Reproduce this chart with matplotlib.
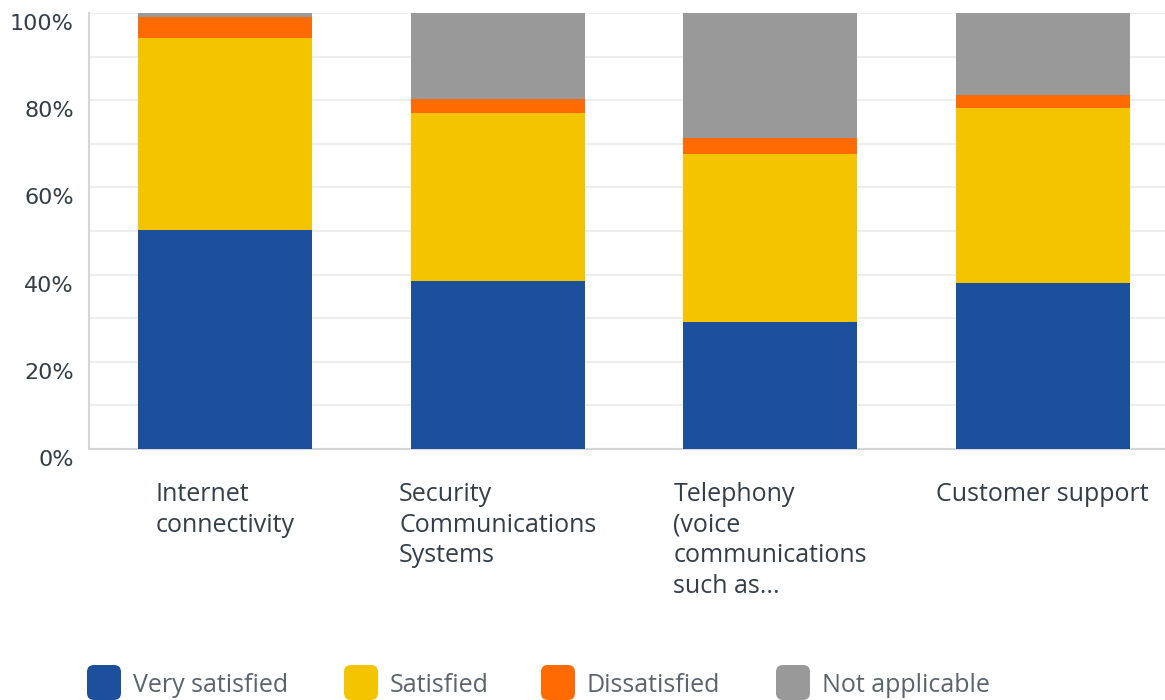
import matplotlib
matplotlib.use('Agg')
import matplotlib.pyplot as plt
import matplotlib.transforms as mtransforms
from matplotlib.patches import FancyBboxPatch

# 데이터
categories = ['Internet\nconnectivity',
              'Security\nCommunications\nSystems',
              'Telephony\n(voice\ncommunications\nsuch as...',
              'Customer support']
very_satisfied = [50.2, 38.5, 29.1, 38.1]
satisfied = [44.1, 38.6, 38.6, 40.2]
dissatisfied = [4.8, 3.1, 3.6, 2.9]
not_applicable = [0.9, 19.8, 28.7, 18.8]

series_names = ['Very satisfied', 'Satisfied', 'Dissatisfied', 'Not applicable']
colors = ['#1c4f9c', '#f5c400', '#ff6b00', '#999999']

plt.rcParams['font.family'] = ['Open Sans', 'DejaVu Sans']

fig = plt.figure(figsize=(11.65, 7), dpi=100)
ax = fig.add_axes([89 / 1165, 1 - 449 / 700, (1165 - 89) / 1165, 436 / 700])

x = range(len(categories))
bottom = [0] * len(categories)
for name, vals, col in zip(series_names, [very_satisfied, satisfied, dissatisfied, not_applicable], colors):
    ax.bar(x, vals, width=0.64, bottom=bottom, color=col, edgecolor='none', zorder=3, label=name)
    bottom = [b + v for b, v in zip(bottom, vals)]

ax.set_xlim(-0.5, (1165 - 89) / 272.5 - 0.5)
ax.set_ylim(0, 100)
ax.set_yticks(range(0, 101, 20))
ax.set_yticklabels([f'{v}%' for v in range(0, 101, 20)], fontsize=16, color='#333e48',
                   family='DejaVu Sans')
ax.set_yticks(range(10, 100, 20), minor=True)
ax.grid(axis='y', which='both', color='#eeeeee', linewidth=1.5, zorder=0)
ax.tick_params(axis='y', which='both', length=0, pad=11)

# y 라벨을 살짝 아래로
offset = mtransforms.ScaledTranslation(0, -9 / 100, fig.dpi_scale_trans)
for lbl in ax.get_yticklabels():
    lbl.set_transform(lbl.get_transform() + offset)

ax.set_xticks(list(x))
ax.set_xticklabels(categories, fontsize=18, color='#333e48', linespacing=1.29,
                   multialignment='left', va='top')
ax.tick_params(axis='x', length=0, pad=24)

for s in ['top', 'right']:
    ax.spines[s].set_visible(False)
ax.spines['left'].set_color('#d6d6d6')
ax.spines['bottom'].set_color('#d6d6d6')
ax.spines['left'].set_linewidth(1.5)
ax.spines['bottom'].set_linewidth(1.5)

# 범례 (수동)
legend_x = [87, 344, 541, 776]
for name, col, lx in zip(series_names, colors, legend_x):
    fig.patches.append(FancyBboxPatch((lx / 1165, 1 - 700 / 700), 34 / 1165, 35 / 700,
                                      boxstyle='round,pad=0,rounding_size=0.006',
                                      transform=fig.transFigure, facecolor=col,
                                      edgecolor='none', mutation_aspect=1165 / 700))
    fig.text((lx + 46) / 1165, 1 - 686 / 700, name, fontsize=18, color='#5b646d',
             va='center', ha='left')

fig.savefig('out.png', dpi=100)
